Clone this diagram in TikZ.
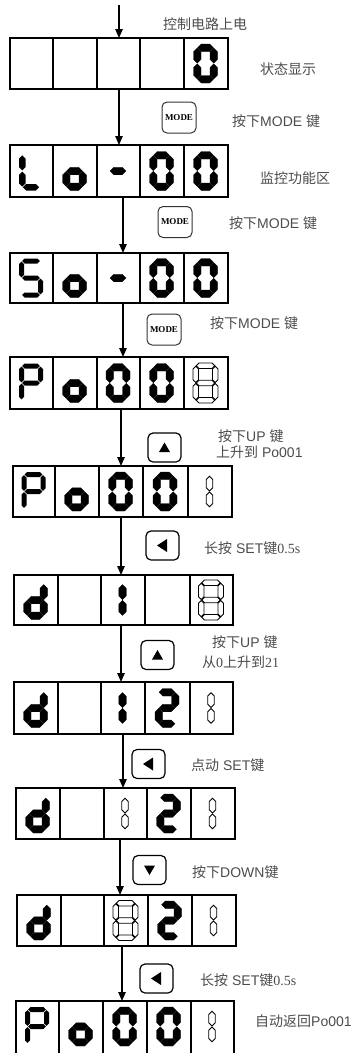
\documentclass[tikz,border=0pt]{standalone}
\usepackage{fontspec}
\setmainfont{Liberation Sans}
\newfontfamily\cjk{Noto Sans CJK SC}
\newfontfamily\tms{Liberation Serif}
\usetikzlibrary{arrows.meta}

\tikzset{
  dline/.style={line width=1.2pt},
  arr/.style={line width=1.2pt,-{Triangle[length=9pt,width=7.5pt]}},
  lbl/.style={anchor=west,inner sep=0pt,text=black!70,font=\fontsize{14}{16}\selectfont},
  modebtn/.style={draw=black!80,line width=1pt,rounded corners=5pt,minimum width=34pt,minimum height=31pt,inner sep=0pt,font=\tms\bfseries\fontsize{9}{10}\selectfont},
  keybtn/.style={draw,line width=1.2pt,rounded corners=5pt,minimum width=33pt,minimum height=29pt,inner sep=0pt},
  boldseg/.style={fill=black,draw=black,line width=0.3pt},
  thinseg/.style={fill=black},
  outseg/.style={draw=black,fill=white,line width=0.8pt,line join=miter},
}

% horizontal segment: tips at x1,x2 on line y, thickness t
\newcommand\segH[4]{%
  \path[curseg] ({#1},{#3}) -- ({#1+#4/2},{#3-#4/2}) -- ({#2-#4/2},{#3-#4/2}) -- ({#2},{#3}) -- ({#2-#4/2},{#3+#4/2}) -- ({#1+#4/2},{#3+#4/2}) -- cycle;}
% vertical segment: tips at y1,y2 on line x
\newcommand\segV[4]{%
  \path[curseg] ({#1},{#2}) -- ({#1+#4/2},{#2+#4/2}) -- ({#1+#4/2},{#3-#4/2}) -- ({#1},{#3}) -- ({#1-#4/2},{#3-#4/2}) -- ({#1-#4/2},{#2+#4/2}) -- cycle;}

\def\gsega{\segH{\gLa}{\gRa}{\gT}{\gt}}
\def\gsegb{\segV{\gR}{\gTa}{\gMa}{\gt}}
\def\gsegc{\segV{\gR}{\gMb}{\gBa}{\gt}}
\def\gsegd{\segH{\gLa}{\gRa}{\gB}{\gt}}
\def\gsege{\segV{\gL}{\gMb}{\gBa}{\gt}}
\def\gsegf{\segV{\gL}{\gTa}{\gMa}{\gt}}
\def\gsegg{\segH{\gLa}{\gRa}{\gM}{\gt}}

% #1 gap, #2 cx, #3 cy, #4 w, #5 h, #6 t, #7 style, #8 segments
\newcommand\glyph[8][0.6]{%
  \pgfmathsetmacro\gL{#2-#4/2+#6/2}%
  \pgfmathsetmacro\gR{#2+#4/2-#6/2}%
  \pgfmathsetmacro\gT{#3-#5/2+#6/2}%
  \pgfmathsetmacro\gM{#3}%
  \pgfmathsetmacro\gB{#3+#5/2-#6/2}%
  \pgfmathsetmacro\gLa{\gL+#1}%
  \pgfmathsetmacro\gRa{\gR-#1}%
  \pgfmathsetmacro\gTa{\gT+#1}%
  \pgfmathsetmacro\gMa{\gM-#1}%
  \pgfmathsetmacro\gMb{\gM+#1}%
  \pgfmathsetmacro\gBa{\gB-#1}%
  \def\gt{#6}%
  \tikzset{curseg/.style={#7}}%
  \foreach \s in {#8}{\csname gseg\s\endcsname}%
}
\newcommand\gbold[3]{\glyph[0.35]{#1}{#2}{24}{39}{7.5}{boldseg}{#3}}
\newcommand\gmed[4]{\glyph[0.7]{#1}{#2}{24}{39}{#4}{thinseg}{#3}}
\newcommand\gouteight[2]{\glyph[0.5]{#1}{#2}{25}{40}{5.5}{outseg}{a,b,c,d,e,f,g}}
\newcommand\gboldone[2]{\glyph[0.35]{#1}{#2}{7.5}{39}{7.5}{boldseg}{b,c}}
\newcommand\goutone[2]{\glyph[0.5]{#1}{#2}{6.5}{38}{6.5}{outseg}{b,c}}

\newcommand\dbox[8]{%
  \draw[dline] (#1,#7) rectangle (#6,#8);
  \foreach \xx in {#2,#3,#4,#5} {\draw[dline] (\xx,#7) -- (\xx,#8);}
}

\begin{document}
\begin{tikzpicture}[x=1pt,y=-1pt]
\useasboundingbox (0,0) rectangle (355,1053);
\clip (0,0) rectangle (355,1053);

% ---------- display boxes ----------
\dbox{10}{53}{97}{140}{184}{228}{38}{89}
\dbox{10}{53}{97}{140}{184}{228}{145}{197}
\dbox{10}{53}{97}{140}{184}{228}{253}{303}
\dbox{10}{53}{97}{140}{184}{228}{357}{409}
\dbox{13}{55}{99}{143}{188}{232}{466}{517}
\dbox{14}{58}{101}{145}{190}{233}{575}{625}
\dbox{14}{58}{101}{145}{190}{233}{682}{734}
\dbox{16}{60}{104}{147}{191}{235}{788}{839}
\dbox{17}{61}{104}{148}{192}{236}{895}{946}
\dbox{16}{59}{103}{147}{191}{234}{1001}{1065}

% ---------- glyphs ----------
% D1
\gbold{205.5}{63.5}{a,b,c,d,e,f}
% D2  L o - 0 0
\gmed{31}{171}{f,e,d}{6.5}
\gbold{74.5}{171}{c,d,e,g}
\gbold{118}{171}{g}
\gbold{161.5}{171}{a,b,c,d,e,f}
\gbold{205.5}{171}{a,b,c,d,e,f}
% D3  S o - 0 0
\gmed{31}{278}{a,f,g,c,d}{5}
\gbold{74.5}{278}{c,d,e,g}
\gbold{118}{278}{g}
\gbold{161.5}{278}{a,b,c,d,e,f}
\gbold{205.5}{278}{a,b,c,d,e,f}
% D4  P o 0 0 8
\gmed{31}{383}{a,b,f,g,e}{5}
\gbold{74.5}{383}{c,d,e,g}
\gbold{118}{383}{a,b,c,d,e,f}
\gbold{161.5}{383}{a,b,c,d,e,f}
\gouteight{205.5}{383}
% D5  P o 0 0 1
\gmed{33.5}{491.5}{a,b,f,g,e}{5}
\gbold{76.5}{491.5}{c,d,e,g}
\gbold{120.5}{491.5}{a,b,c,d,e,f}
\gbold{165}{491.5}{a,b,c,d,e,f}
\goutone{209.5}{491.5}
% D6  d _ 1 _ 8
\gbold{35.5}{600}{b,c,d,e,g}
\gboldone{122.5}{600}
\gouteight{211}{600}
% D7  d _ 1 2 1
\gbold{35.5}{708}{b,c,d,e,g}
\gboldone{122.5}{708}
\gbold{167}{708}{a,b,g,e,d}
\goutone{211}{708}
% D8  d _ 1 2 1
\gbold{37.5}{813.5}{b,c,d,e,g}
\goutone{125}{813.5}
\gbold{168.5}{813.5}{a,b,g,e,d}
\goutone{212.5}{813.5}
% D9  d _ 8 2 1
\gbold{38.5}{920.5}{b,c,d,e,g}
\gouteight{125.5}{920.5}
\gbold{169.5}{920.5}{a,b,g,e,d}
\goutone{213.5}{920.5}
% D10 P o 0 0 1
\gmed{37}{1026.5}{a,b,f,g,e}{5}
\gbold{80.5}{1026.5}{c,d,e,g}
\gbold{124.5}{1026.5}{a,b,c,d,e,f}
\gbold{168.5}{1026.5}{a,b,c,d,e,f}
\goutone{212}{1026.5}

% ---------- arrows ----------
\coordinate (a1s) at (119,5);     \coordinate (a1e) at (119,38);
\coordinate (a2s) at (119,89);    \coordinate (a2e) at (119,145);
\coordinate (a3s) at (123,197);   \coordinate (a3e) at (123,253);
\coordinate (a4s) at (123,303);   \coordinate (a4e) at (123,357);
\coordinate (a5s) at (121,409);   \coordinate (a5e) at (121,466);
\coordinate (a6s) at (121,517);   \coordinate (a6e) at (121,575);
\coordinate (a7s) at (121,625);   \coordinate (a7e) at (121,682);
\coordinate (a8s) at (123,734);   \coordinate (a8e) at (123,788);
\coordinate (a9s) at (120,839);   \coordinate (a9e) at (120,895);
\coordinate (a10s) at (122,946);  \coordinate (a10e) at (122,1001);
\foreach \i in {1,...,10} {\draw[arr] (a\i s) -- (a\i e);}

% ---------- buttons ----------
\node[modebtn] (m1) at (179,117.5) {MODE};
\node[modebtn] (m2) at (175,222) {MODE};
\node[modebtn] (m3) at (164,329.5) {MODE};
\node[keybtn] (u1) at (164.5,447.5) {};
\node[keybtn] (l1) at (162.5,545.5) {};
\node[keybtn] (u2) at (157.5,655) {};
\node[keybtn] (l2) at (148.5,764) {};
\node[keybtn] (dn) at (149.5,870) {};
\node[keybtn] (l3) at (156.5,978.5) {};
\foreach \b in {u1,u2} {\fill (\b.center) ++(0,-5) -- ++(5.5,9.5) -- ++(-11,0) -- cycle;}
\fill (dn.center) ++(0,5) -- ++(5.5,-9.5) -- ++(-11,0) -- cycle;
\foreach \b in {l1,l2,l3} {\fill (\b.center) ++(-5.5,0) -- ++(10,-6.5) -- ++(0,13) -- cycle;}

% ---------- labels ----------
\node[lbl] (t1) at (163,24) {\cjk 控制电路上电};
\node[lbl] (t2) at (260,69) {\cjk 状态显示};
\node[lbl] (t3) at (232,121) {{\cjk 按下}MODE {\cjk 键}};
\node[lbl] (t4) at (260,178) {\cjk 监控功能区};
\node[lbl] (t5) at (229,223) {{\cjk 按下}MODE {\cjk 键}};
\node[lbl] (t6) at (210,323) {{\cjk 按下}MODE {\cjk 键}};
\node[lbl] (t7) at (218,436) {{\cjk 按下}UP {\cjk 键}};
\node[lbl] (t8) at (216,452) {{\cjk 上升到} Po001};
\node[lbl] (t9) at (204,548) {{\cjk 长按} SET{\cjk 键}{\tms 0.5s}};
\node[lbl] (t10) at (212,642) {{\cjk 按下}UP {\cjk 键}};
\node[lbl] (t11) at (202,662) {{\cjk 从}{\tms 0}{\cjk 上升到}{\tms 21}};
\node[lbl] (t12) at (191,765) {{\cjk 点动} SET{\cjk 键}};
\node[lbl] (t13) at (192,872) {{\cjk 按下}DOWN{\cjk 键}};
\node[lbl] (t14) at (200,980) {{\cjk 长按} SET{\cjk 键}{\tms 0.5s}};
\node[lbl] (t15) at (255,1021) {{\cjk 自动返回}Po001};
\end{tikzpicture}
\end{document}
